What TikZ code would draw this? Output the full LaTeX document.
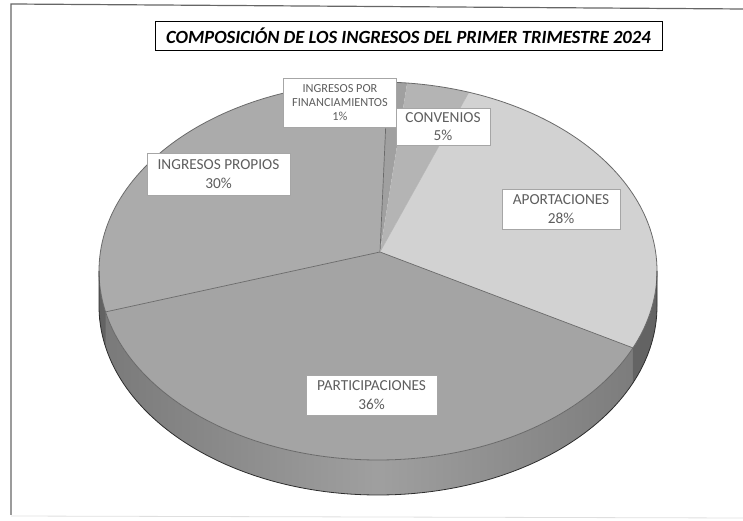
\documentclass[tikz,border=0pt]{standalone}
\usepackage{fontspec}
\setmainfont{Carlito}
\usepackage{tikz}
\usetikzlibrary{positioning}

\definecolor{propios}{HTML}{ABABAB}
\definecolor{partic}{HTML}{A4A4A4}
\definecolor{aport}{HTML}{D2D2D2}
\definecolor{conven}{HTML}{B4B4B4}
\definecolor{financ}{HTML}{A0A0A0}
\definecolor{labeltext}{HTML}{5E5E5E}
\definecolor{edgeline}{HTML}{6A6A6A}

\tikzset{
  lbl/.style={draw=gray!70, line width=0.8pt, fill=white, text=labeltext, align=center, inner sep=2pt, font=\fontsize{15.3}{18.5}\selectfont},
  slicebd/.style={draw=edgeline, line width=0.7pt}
}

\newcommand{\ep}[1]{({378+279*cos(#1)},{250+189*sin(#1)})}

\begin{document}
\begin{tikzpicture}[x=1pt, y=1pt]
    \useasboundingbox (0,0) rectangle (743,521);
    % Frame
    \draw[gray!80!black, line width=1.2pt] (11,6) -- (11,517) -- (743,512);
    \draw[gray!25, line width=0.8pt] (11,5) -- (743,3);

    % Side of the pie
    \shade[left color=gray!95!black, right color=gray!95!black, middle color=gray!75]
        \ep{180} arc[start angle=180, end angle=360, x radius=279, y radius=189]
        -- ++(0,-35) arc[start angle=360, end angle=180, x radius=279, y radius=189] -- cycle;
    \fill[gray!45!black, opacity=0.35]
        \ep{180} arc[start angle=180, end angle=192.5, x radius=279, y radius=189]
        -- ++(0,-35) arc[start angle=192.5, end angle=180, x radius=279, y radius=189] -- cycle;
    \fill[gray!45!black, opacity=0.35]
        \ep{336} arc[start angle=336, end angle=360, x radius=279, y radius=189]
        -- ++(0,-35) arc[start angle=360, end angle=336, x radius=279, y radius=189] -- cycle;

    % Slices
    \coordinate (apex) at (380,269);
    \fill[propios] (apex) -- \ep{192.5} arc[start angle=192.5, end angle=88, x radius=279, y radius=189] -- cycle;
    \fill[financ] (apex) -- \ep{88} arc[start angle=88, end angle=84, x radius=279, y radius=189] -- cycle;
    \fill[conven] (apex) -- \ep{84} arc[start angle=84, end angle=71, x radius=279, y radius=189] -- cycle;
    \fill[aport] (apex) -- \ep{71} arc[start angle=71, end angle=-24, x radius=279, y radius=189] -- cycle;
    \fill[partic] (apex) -- \ep{-24} arc[start angle=-24, end angle=-167.5, x radius=279, y radius=189] -- cycle;

    % Boundaries
    \draw[slicebd] \ep{88} -- (apex) -- \ep{-24};
    \draw[slicebd] (apex) -- \ep{192.5};
    \draw[gray!60, line width=0.5pt] (apex) -- \ep{71};
    \draw[edgeline, line width=0.8pt] (378,250) ellipse[x radius=279, y radius=189];
    \draw[gray!35!black, line width=0.8pt] \ep{180} -- ++(0,-35) arc[start angle=180, end angle=360, x radius=279, y radius=189] -- ++(0,35);

    % Nodes
    \node[draw=black, line width=1pt, fill=white, minimum width=507pt, minimum height=29pt, inner sep=1pt, font=\fontsize{18.6}{21}\selectfont\bfseries\itshape] (title) at (408.5,485) {COMPOSICIÓN DE LOS INGRESOS DEL PRIMER TRIMESTRE 2024};
    \node[lbl, font=\fontsize{12.3}{14}\selectfont, minimum width=113pt, minimum height=49pt] (financ) at (340,418.5) {INGRESOS POR\\FINANCIAMIENTOS\\1\%};
    \node[lbl, minimum width=94pt, minimum height=37pt] (conven) at (443,394.5) {CONVENIOS\\5\%};
    \node[lbl, minimum width=143pt, minimum height=42pt] (propios) at (218.5,347) {INGRESOS PROPIOS\\30\%};
    \node[lbl, minimum width=118pt, minimum height=40pt] (aport) at (561,312) {APORTACIONES\\28\%};
    \node[lbl, minimum width=131pt, minimum height=40pt] (partic) at (371.5,126) {PARTICIPACIONES\\36\%};
\end{tikzpicture}
\end{document}
